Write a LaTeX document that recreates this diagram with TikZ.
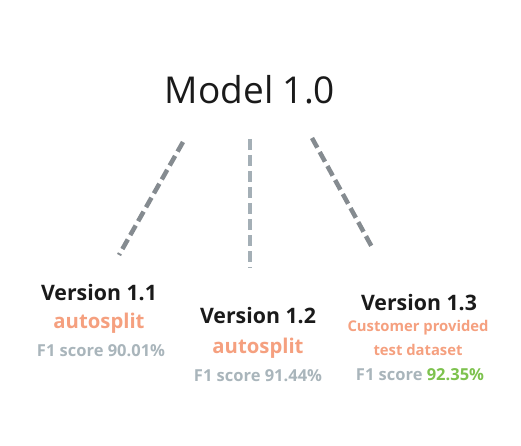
\documentclass[tikz,border=0pt]{standalone}
\usepackage{fontspec}
\setmainfont{Open Sans}
\begin{document}
\begin{tikzpicture}[x=1pt,y=-1pt,
  title/.style={font=\fontsize{37}{44}\selectfont, text=titlecol, inner sep=0pt},
  ver/.style={font=\bfseries\fontsize{21.3}{24}\selectfont, text=titlecol, inner sep=0pt},
  method/.style={font=\bfseries\fontsize{20.3}{23}\selectfont, text=salmon, inner sep=0pt},
  methodsmall/.style={font=\bfseries\fontsize{14.8}{18}\selectfont, text=salmon, inner sep=0pt},
  score/.style={font=\bfseries\fontsize{16.5}{18}\selectfont, text=scoregrey, inner sep=0pt},
  link/.style={line width=4.5pt, dash pattern=on 11pt off 5pt}
]
\definecolor{titlecol}{HTML}{1A1A1A}
\definecolor{salmon}{HTML}{F5A07F}
\definecolor{scoregrey}{HTML}{A9B5BB}
\definecolor{greenval}{HTML}{7DC24E}
\definecolor{linedark}{HTML}{858B90}
\definecolor{linelight}{HTML}{A4AFB6}
\useasboundingbox (0,0) rectangle (521,446);
\node[title] (model) at (250,90) {Model 1.0};
% connectors
\coordinate (l1s) at (183,142);
\coordinate (l1e) at (119,255);
\coordinate (l2s) at (250,139);
\coordinate (l2e) at (250,268);
\coordinate (l3s) at (312,138);
\coordinate (l3e) at (373,249);
\draw[link, linedark] (l1s) -- (l1e);
\draw[link, linelight] (l2s) -- (l2e);
\draw[link, linedark] (l3s) -- (l3e);
% version 1.1
\node[ver] (v11) at (99,293) {Version 1.1};
\node[method] (m11) at (99,323) {autosplit};
\node[score] (s11) at (101,351) {F1 score 90.01\%};
% version 1.2
\node[ver] (v12) at (258,316) {Version 1.2};
\node[method] (m12) at (258,348) {autosplit};
\node[score] (s12) at (258,376) {F1 score 91.44\%};
% version 1.3
\node[ver] (v13) at (419,303) {Version 1.3};
\node[methodsmall] (m13a) at (418,328) {Customer provided};
\node[methodsmall] (m13b) at (418,350) {test dataset};
\node[score] (s13) at (420,375) {F1 score \textcolor{greenval}{92.35\%}};
\end{tikzpicture}
\end{document}
